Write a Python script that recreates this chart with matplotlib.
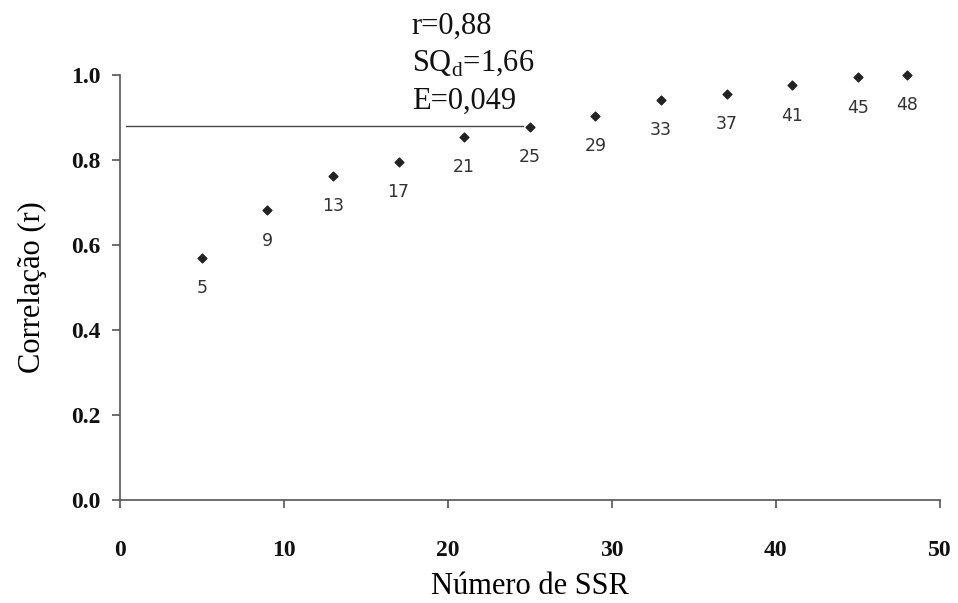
import matplotlib
matplotlib.use("Agg")
import matplotlib.pyplot as plt

n_ssr = [5, 9, 13, 17, 21, 25, 29, 33, 37, 41, 45, 48]
corr = [0.570, 0.681, 0.763, 0.795, 0.854, 0.878, 0.904, 0.941, 0.955, 0.975, 0.994, 1.000]
point_labels = [str(v) for v in n_ssr]
ref_r = 0.88
ref_line_x = [0.4, 24.6]
xticks = [0, 10, 20, 30, 40, 50]
yticks = [0.0, 0.2, 0.4, 0.6, 0.8, 1.0]
annot_text = "r=0,88\nSQ$_\\mathregular{d}$=1,66\nE=0,049"

fig = plt.figure(figsize=(9.58, 6.03), dpi=100)
ax = fig.add_axes([0.125, 0.171, 0.856, 0.705])

ax.scatter(n_ssr, corr, marker="D", s=20, color="#222222", zorder=3, clip_on=False)
for x, y, lab in zip(n_ssr, corr, point_labels):
    ax.annotate(lab, (x, y), xytext=(0, -22), textcoords="offset points",
                ha="center", va="center", fontsize=12.5, family="DejaVu Sans",
                color="#333333")

ax.plot(ref_line_x, [ref_r, ref_r], color="#444444", lw=1.0)

ax.text(17.8, 1.026, annot_text, family="Liberation Serif", fontsize=22,
        ha="left", va="center", linespacing=1.37, color="#111111")

ax.set_xlim(0, 50)
ax.set_ylim(0, 1.0)
ax.set_xticks(xticks)
ax.set_yticks(yticks)
ax.set_xticklabels([f"{v}" for v in xticks])
ax.set_yticklabels([f"{v:.1f}" for v in yticks])
for lab in ax.get_xticklabels() + ax.get_yticklabels():
    lab.set_family("Liberation Serif")
    lab.set_fontweight("bold")
    lab.set_fontsize(17)
    lab.set_color("#111111")

ax.spines["top"].set_visible(False)
ax.spines["right"].set_visible(False)
for s in ("left", "bottom"):
    ax.spines[s].set_color("#555555")
    ax.spines[s].set_linewidth(1.2)
ax.tick_params(axis="x", direction="out", length=6, width=1.2, color="#555555", pad=23)
ax.tick_params(axis="y", direction="out", length=6, width=1.2, color="#555555", pad=8)

ax.set_xlabel("Número de SSR", family="Liberation Serif", fontsize=22, labelpad=8)
ax.set_ylabel("Correlação (r)", family="Liberation Serif", fontsize=22, labelpad=17)

fig.savefig("out.png", dpi=100)
